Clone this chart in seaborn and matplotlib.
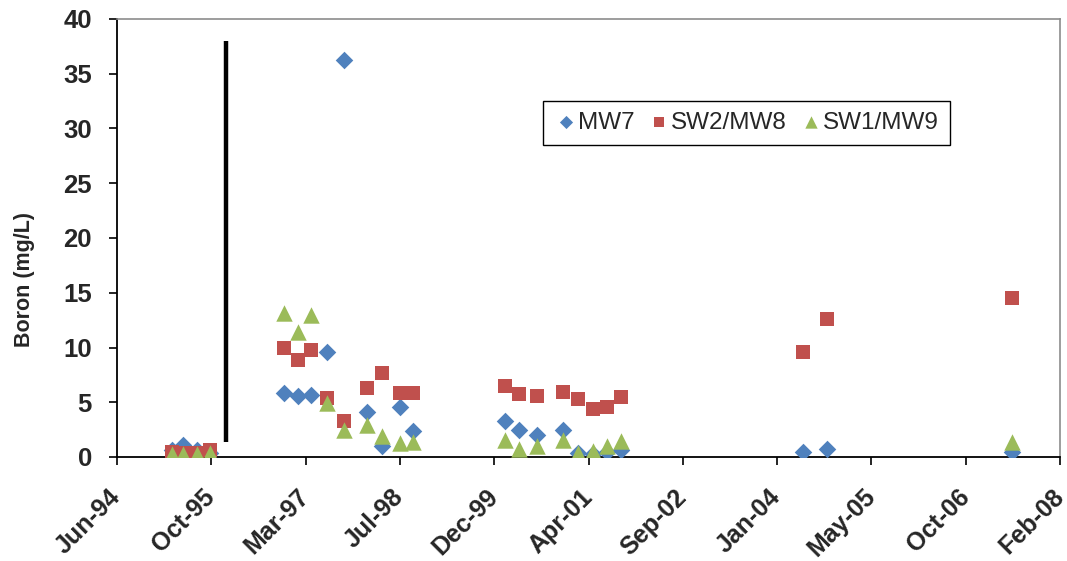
import numpy as np
import pandas as pd
import matplotlib
matplotlib.use("Agg")
import matplotlib.pyplot as plt
import matplotlib.dates as mdates
import seaborn as sns

# ---------------- data ----------------
sample_dates = [
    "1995-04-03", "1995-05-31", "1995-08-13", "1995-10-21",
    "1996-11-16", "1997-01-30", "1997-04-11", "1997-06-30", "1997-10-03",
    "1998-01-28", "1998-04-20", "1998-07-24", "1998-10-01",
    "2000-02-01", "2000-04-15", "2000-07-20", "2000-12-05",
    "2001-02-22", "2001-05-13", "2001-07-26", "2001-10-08",
    "2004-05-30", "2004-10-05",
    "2007-06-13",
]
mw7 = [0.6, 1.1, 0.6, 0.4,
       5.8, 5.6, 5.7, 9.6, 36.3, 4.1, 1.0, 4.6, 2.4,
       3.3, 2.5, 2.0, 2.5, 0.35, 0.3, 0.5, 0.6,
       0.5, 0.7,
       0.5]
sw2_mw8 = [0.5, 0.4, 0.4, 0.6,
           9.95, 8.9, 9.8, 5.4, 3.3, 6.3, 7.7, 5.8, 5.8,
           6.5, 5.75, 5.55, 5.95, 5.3, 4.4, 4.55, 5.5,
           9.6, 12.6,
           14.5]
sw1_mw9 = [0.3, 0.3, 0.3, 0.4,
           13.15, 11.4, 12.95, 4.95, 2.5, 2.95, 1.9, 1.25, 1.35,
           1.55, 0.75, 1.05, 1.55, 0.35, 0.55, 1.0, 1.45,
           np.nan, np.nan,
           1.4]
series_names = ["MW7", "SW2/MW8", "SW1/MW9"]
y_ticks = [0, 5, 10, 15, 20, 25, 30, 35, 40]
x_start = "1994-06-15"
x_step_days = 500
n_x_ticks = 11
divider_date = "1996-01-14"
divider_low, divider_high = 1.4, 38.0

# ---------------- build frame ----------------
frames = []
for name, vals in zip(series_names, [mw7, sw2_mw8, sw1_mw9]):
    frames.append(pd.DataFrame({"Date": pd.to_datetime(sample_dates),
                                "Boron": vals, "Series": name}))
df = pd.concat(frames).dropna()

# ---------------- style ----------------
sns.set_theme(style="ticks")
plt.rcParams["font.family"] = ["Liberation Sans", "DejaVu Sans"]

colors = {"MW7": "#4F81BD", "SW2/MW8": "#C0504D", "SW1/MW9": "#9BBB59"}
markers = {"MW7": "D", "SW2/MW8": "s", "SW1/MW9": "^"}
sizes = {"MW7": 80, "SW2/MW8": 110, "SW1/MW9": 140}

fig = plt.figure(figsize=(10.67, 5.61), dpi=100)
ax = fig.add_axes([117 / 1067, 1 - 457 / 561, (1060 - 117) / 1067, (457 - 19) / 561])

for name in series_names:
    sub = df[df["Series"] == name]
    sns.scatterplot(data=sub, x="Date", y="Boron", ax=ax, color=colors[name],
                    marker=markers[name], s=sizes[name], linewidth=0,
                    label=name, zorder=3)

ax.vlines(pd.to_datetime(divider_date), divider_low, divider_high,
          color="black", linewidth=3.2, zorder=2)

# axes
start = pd.Timestamp(x_start)
xt = [start + pd.Timedelta(days=x_step_days * k) for k in range(n_x_ticks)]
ax.set_xlim(xt[0], xt[-1])
ax.set_xticks(xt)
ax.xaxis.set_major_formatter(mdates.DateFormatter("%b-%y"))
ax.set_ylim(0, 40)
ax.set_yticks(y_ticks)

ax.set_xlabel("")
ax.set_ylabel("Boron (mg/L)", fontsize=15.5, fontweight="bold")
ax.yaxis.set_label_coords(-0.087, 0.405)

ax.tick_params(axis="y", direction="out", length=6, width=1.2, pad=12,
               labelsize=18.5, color="black")
ax.tick_params(axis="x", direction="out", length=6, width=1.2, pad=20,
               labelsize=18, color="black")
for lab in ax.get_yticklabels():
    lab.set_fontweight("bold")
for lab in ax.get_xticklabels():
    lab.set_fontweight("bold")
    lab.set_rotation(45)
    lab.set_ha("right")
    lab.set_va("center")
    lab.set_rotation_mode("anchor")

for side in ["left", "bottom"]:
    ax.spines[side].set_color("black")
    ax.spines[side].set_linewidth(1.3)
for side in ["top", "right"]:
    ax.spines[side].set_visible(True)
    ax.spines[side].set_color("#8c8c8c")
    ax.spines[side].set_linewidth(1.2)

handles, labels = ax.get_legend_handles_labels()
leg = ax.legend(handles, labels, loc="center", bbox_to_anchor=(0.6675, 0.7635),
                ncol=3, fontsize=17.5, frameon=True, fancybox=False,
                edgecolor="black", framealpha=1, markerscale=0.75,
                handletextpad=0.0, columnspacing=0.5, handlelength=1.0,
                borderpad=0.45)
leg.get_frame().set_linewidth(1.0)

fig.savefig("out.png", dpi=100)
